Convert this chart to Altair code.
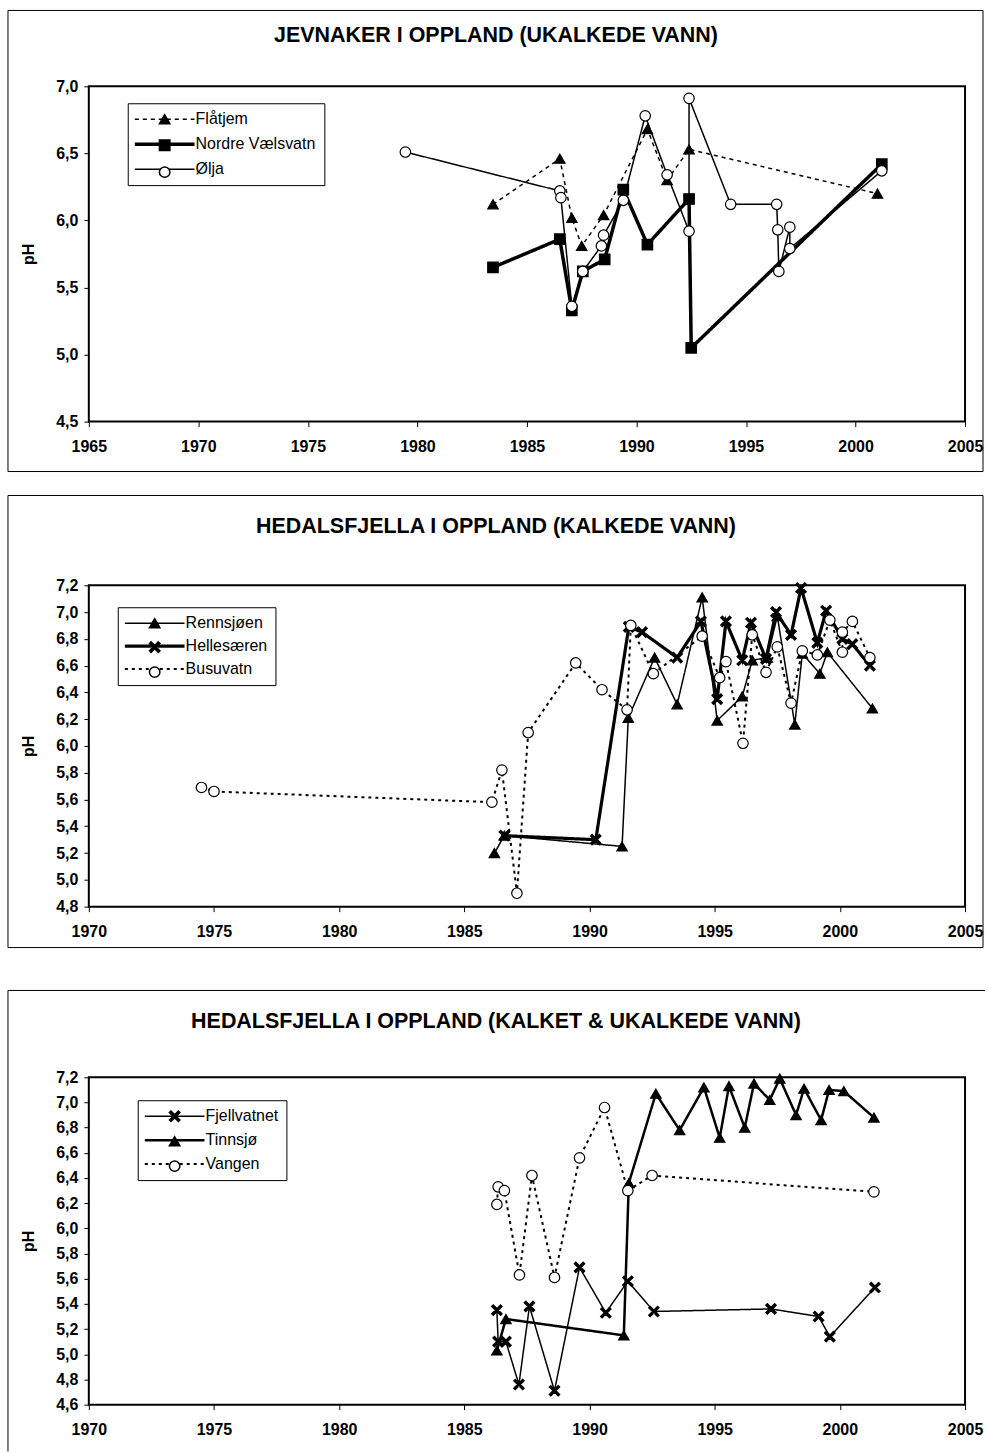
import altair as alt
import pandas as pd

FONT = "Liberation Sans"
X_MARK = "M-1,-0.7L-0.7,-1L1,0.7L0.7,1ZM0.7,-1L1,-0.7L-0.7,1L-1,0.7Z"
LEGEND_LINE = "M-5.7,0H5.7"

# ---------------- Jevnaker i Oppland (ukalkede vann) ----------------
JEV_TITLE = "JEVNAKER I OPPLAND (UKALKEDE VANN)"
JEV_NAMES = ["Flåtjem", "Nordre Vælsvatn", "Ølja"]
FLATJEM_YEAR = [1983.45, 1986.5, 1987.05, 1987.5, 1988.5, 1990.5, 1991.4, 1992.4, 2001.0]
FLATJEM_PH = [6.12, 6.46, 6.02, 5.81, 6.04, 6.68, 6.30, 6.53, 6.20]
NORDRE_YEAR = [1983.45, 1986.5, 1987.05, 1987.55, 1988.55, 1989.4, 1990.5, 1992.4, 1992.5, 2001.2]
NORDRE_PH = [5.65, 5.86, 5.33, 5.62, 5.71, 6.23, 5.82, 6.16, 5.05, 6.42]
OLJA_YEAR = [1979.45, 1986.5, 1986.55, 1987.05, 1987.55, 1988.4, 1988.5, 1989.4, 1990.4,
             1991.4, 1992.4, 1992.4, 1994.3, 1996.4, 1996.45, 1996.5, 1997.0, 1997.0, 2001.2]
OLJA_PH = [6.51, 6.22, 6.17, 5.36, 5.62, 5.81, 5.89, 6.15, 6.78,
           6.34, 5.92, 6.91, 6.12, 6.12, 5.93, 5.62, 5.95, 5.79, 6.37]
JEV_X_TICKS = [1965, 1970, 1975, 1980, 1985, 1990, 1995, 2000, 2005]
JEV_Y_TICKS = [4.5, 5.0, 5.5, 6.0, 6.5, 7.0]

# ---------------- Hedalsfjella (kalkede vann) ----------------
HED_TITLE = "HEDALSFJELLA I OPPLAND (KALKEDE VANN)"
HED_NAMES = ["Rennsjøen", "Hellesæren", "Busuvatn"]
RENN_YEAR = [1986.2, 1986.6, 1991.3, 1991.55, 1992.6, 1993.5, 1994.5, 1995.1, 1996.1,
             1996.5, 1997.1, 1997.5, 1998.2, 1998.5, 1999.2, 1999.5, 2001.3]
RENN_PH = [5.20, 5.33, 5.25, 6.21, 6.66, 6.31, 7.11, 6.19, 6.37,
           6.64, 6.66, 6.97, 6.16, 6.69, 6.54, 6.70, 6.28]
HELLE_YEAR = [1986.6, 1990.25, 1991.57, 1992.1, 1993.5, 1994.45, 1995.1, 1995.45, 1996.1,
              1996.45, 1997.05, 1997.45, 1998.05, 1998.45, 1999.1, 1999.45, 2000.1, 2000.5, 2001.2]
HELLE_PH = [5.33, 5.30, 6.89, 6.85, 6.66, 6.93, 6.35, 6.93, 6.64,
            6.92, 6.65, 7.00, 6.83, 7.18, 6.77, 7.01, 6.80, 6.76, 6.60]
BUSU_YEAR = [1974.5, 1975.0, 1986.1, 1986.5, 1987.1, 1987.55, 1989.45, 1990.5, 1991.5,
             1991.65, 1992.55, 1994.5, 1995.2, 1995.45, 1996.13, 1996.5, 1997.05, 1997.5,
             1998.05, 1998.5, 1999.1, 1999.6, 2000.1, 2000.1, 2000.5, 2001.2]
BUSU_PH = [5.69, 5.66, 5.58, 5.82, 4.90, 6.10, 6.62, 6.42, 6.27,
           6.90, 6.54, 6.82, 6.51, 6.63, 6.02, 6.83, 6.55, 6.74,
           6.32, 6.71, 6.68, 6.94, 6.70, 6.85, 6.93, 6.66]
HED_X_TICKS = [1970, 1975, 1980, 1985, 1990, 1995, 2000, 2005]
HED_Y_TICKS = [4.8, 5.0, 5.2, 5.4, 5.6, 5.8, 6.0, 6.2, 6.4, 6.6, 6.8, 7.0, 7.2]

# ---------------- Hedalsfjella (kalket & ukalkede vann) ----------------
MIX_TITLE = "HEDALSFJELLA I OPPLAND (KALKET & UKALKEDE VANN)"
MIX_NAMES = ["Fjellvatnet", "Tinnsjø", "Vangen"]
FJELL_YEAR = [1986.3, 1986.35, 1986.66, 1987.18, 1987.6, 1988.6, 1989.6, 1990.65, 1991.53,
              1992.57, 1997.25, 1999.15, 1999.6, 2001.4]
FJELL_PH = [5.35, 5.10, 5.10, 4.76, 5.38, 4.71, 5.69, 5.33, 5.58,
            5.34, 5.36, 5.30, 5.14, 5.53]
TINN_YEAR = [1986.3, 1986.66, 1991.37, 1991.57, 1992.65, 1993.6, 1994.57, 1995.2, 1995.57,
             1996.2, 1996.57, 1997.2, 1997.6, 1998.25, 1998.57, 1999.25, 1999.57, 2000.16, 2001.36]
TINN_PH = [5.03, 5.28, 5.15, 6.36, 7.07, 6.78, 7.12, 6.72, 7.13,
           6.80, 7.15, 7.02, 7.19, 6.90, 7.11, 6.86, 7.10, 7.09, 6.88]
VANGEN_YEAR = [1986.3, 1986.35, 1986.6, 1987.2, 1987.7, 1988.6, 1989.6, 1990.6, 1991.53, 1992.5, 2001.36]
VANGEN_PH = [6.19, 6.33, 6.30, 5.63, 6.42, 5.61, 6.56, 6.96, 6.30, 6.42, 6.29]
MIX_X_TICKS = [1970, 1975, 1980, 1985, 1990, 1995, 2000, 2005]
MIX_Y_TICKS = [4.6, 4.8, 5.0, 5.2, 5.4, 5.6, 5.8, 6.0, 6.2, 6.4, 6.6, 6.8, 7.0, 7.2]

# Series styles: marker shape, marker fill, line dash, line width
JEV_STYLE = dict(shapes=["triangle-up", "square", "circle"], fills=["black", "black", "white"],
                 dashes=[[4, 4], [1, 0], [1, 0]], widths=[1.5, 3.5, 1.5])
HED_STYLE = dict(shapes=["triangle-up", X_MARK, "circle"], fills=["black", "black", "white"],
                 dashes=[[1, 0], [1, 0], [3, 4]], widths=[1.5, 3.2, 2.0])
MIX_STYLE = dict(shapes=[X_MARK, "triangle-up", "circle"], fills=["black", "black", "white"],
                 dashes=[[1, 0], [1, 0], [3, 4]], widths=[1.5, 2.5, 2.0])

WIDTH = 878
MARK_SIZE = 110
COMMA_LABEL = "replace(format(datum.value, '.1f'), '.', ',')"


def panel(title, title_offset, names, years, values, style, x_ticks, y_ticks, height,
          leg_x, leg_y, row_pad, frame_top, frame_bottom, gap, closed=True):
    keys = [f"k{i}" for i in range(len(names))]
    rows = []
    for name, key, xs, vs in zip(names, keys, years, values):
        for i, (x, v) in enumerate(zip(xs, vs)):
            rows.append({"year": x, "ph": v, "series": name, "marker": key, "seq": i})
    df = pd.DataFrame(rows)

    x = alt.X("year:Q",
              scale=alt.Scale(domain=[x_ticks[0], x_ticks[-1]], nice=False, zero=False),
              axis=alt.Axis(values=x_ticks, format="d", title=None))
    y = alt.Y("ph:Q",
              scale=alt.Scale(domain=[y_ticks[0], y_ticks[-1]], nice=False, zero=False),
              axis=alt.Axis(values=y_ticks, labelExpr=COMMA_LABEL, title="pH"))

    common = dict(title=None, orient="none", legendX=leg_x, legendY=leg_y,
                  symbolSize=MARK_SIZE, symbolOffset=21, labelOffset=23, labelFont=FONT,
                  labelFontSize=16, labelColor="black", rowPadding=row_pad, padding=8,
                  symbolStrokeColor="black", symbolStrokeWidth=1.5, labelLimit=400)
    # line styles with the lake names, plus a marker-only legend laid over it
    leg_lines = alt.Legend(symbolType=LEGEND_LINE, symbolFillColor="transparent",
                           strokeColor="black", zindex=0, **common)
    leg_marks = alt.Legend(labelExpr="''", zindex=1, **common)

    lines = alt.Chart(df).mark_line(color="black").encode(
        x=x, y=y, order="seq:Q",
        strokeDash=alt.StrokeDash("series:N", scale=alt.Scale(domain=names, range=style["dashes"]),
                                  legend=leg_lines),
        strokeWidth=alt.StrokeWidth("series:N",
                                    scale=alt.Scale(type="ordinal", domain=names, range=style["widths"]),
                                    legend=leg_lines),
    )
    points = alt.Chart(df).mark_point(strokeWidth=1.2, opacity=1, size=MARK_SIZE).encode(
        x=x, y=y,
        shape=alt.Shape("marker:N", scale=alt.Scale(domain=keys, range=style["shapes"]), legend=leg_marks),
        fill=alt.Fill("marker:N", scale=alt.Scale(domain=keys, range=style["fills"]), legend=leg_marks),
        stroke=alt.Stroke("marker:N", scale=alt.Scale(domain=keys, range=["black"] * len(keys)),
                          legend=leg_marks),
    )

    one = alt.Data(values=[{}])
    heading = alt.Chart(one).mark_text(font=FONT, fontSize=21.5, fontWeight="bold", color="black",
                                       align="center", baseline="alphabetic").encode(
        x=alt.value(WIDTH / 2 - 31), y=alt.value(-title_offset), text=alt.value(title))
    spacer = alt.Chart(one).mark_rect(color="white").encode(
        x=alt.value(0), x2=alt.value(10), y=alt.value(height + frame_bottom), y2=alt.value(height + gap))
    if closed:
        frame = alt.Chart(one).mark_rect(fill="transparent", stroke="black", strokeWidth=1).encode(
            x=alt.value(-81), x2=alt.value(WIDTH + 18),
            y=alt.value(frame_top), y2=alt.value(height + frame_bottom))
        borders = [frame]
    else:
        left = alt.Chart(one).mark_rule(color="black", strokeWidth=1).encode(
            x=alt.value(-81), y=alt.value(frame_top), y2=alt.value(height + frame_bottom))
        top = alt.Chart(one).mark_rule(color="black", strokeWidth=1).encode(
            x=alt.value(-81), x2=alt.value(WIDTH + 20), y=alt.value(frame_top))
        borders = [left, top]

    return alt.layer(spacer, lines, points, heading, *borders).properties(
        width=WIDTH, height=height)


p1 = panel(JEV_TITLE, 44, JEV_NAMES, [FLATJEM_YEAR, NORDRE_YEAR, OLJA_YEAR],
           [FLATJEM_PH, NORDRE_PH, OLJA_PH], JEV_STYLE, JEV_X_TICKS, JEV_Y_TICKS, 336,
           39, 17, 9, -76, 50, 71)
p2 = panel(HED_TITLE, 52, HED_NAMES, [RENN_YEAR, HELLE_YEAR, BUSU_YEAR],
           [RENN_PH, HELLE_PH, BUSU_PH], HED_STYLE, HED_X_TICKS, HED_Y_TICKS, 322,
           29, 22, 7, -90, 41, 81)
p3 = panel(MIX_TITLE, 49, MIX_NAMES, [FJELL_YEAR, TINN_YEAR, VANGEN_YEAR],
           [FJELL_PH, TINN_PH, VANGEN_PH], MIX_STYLE, MIX_X_TICKS, MIX_Y_TICKS, 328,
           49, 23, 8, -87, 47, 47, closed=False)

chart = alt.vconcat(p1, p2, p3, spacing=0).resolve_scale(
    shape="independent", fill="independent", stroke="independent",
    strokeDash="independent", strokeWidth="independent"
).resolve_legend(
    shape="independent", fill="independent", stroke="independent",
    strokeDash="independent", strokeWidth="independent"
).properties(
    padding={"left": 6, "top": 7, "right": 0, "bottom": 0},
    background="white",
).configure_view(
    stroke="black", strokeWidth=2
).configure_axis(
    domain=False, grid=False, ticks=True, tickColor="black", tickSize=5, tickWidth=1,
    labelFont=FONT, labelFontSize=16, labelFontWeight="bold", labelColor="black",
    titleFont=FONT, titleFontSize=16, titleFontWeight="bold", titleColor="black",
    labelOverlap=False, labelFlush=False, labelBound=False,
).configure_axisX(
    labelPadding=12
).configure_axisY(
    labelPadding=6, titlePadding=19
)

chart.save("out.html", embed_options={"renderer": "svg", "actions": False})
